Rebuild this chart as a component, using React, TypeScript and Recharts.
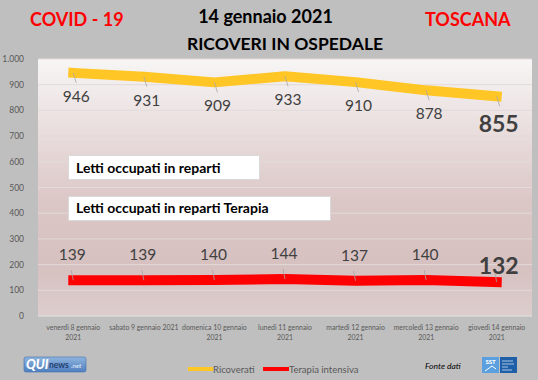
import React from "react";
import {
  ComposedChart,
  Line,
  XAxis,
  YAxis,
  CartesianGrid,
  LabelList,
} from "recharts";

const categories = [
  "venerdì 8 gennaio\n2021",
  "sabato 9 gennaio 2021",
  "domenica 10 gennaio\n2021",
  "lunedì 11 gennaio\n2021",
  "martedì 12 gennaio\n2021",
  "mercoledì 13 gennaio\n2021",
  "giovedì 14 gennaio\n2021",
];
const ricoverati = [946, 931, 909, 933, 910, 878, 855];
const terapiaIntensiva = [139, 139, 140, 144, 137, 140, 132];
const yTicks = [0, 100, 200, 300, 400, 500, 600, 700, 800, 900, 1000];

const data = categories.map((c, i) => ({
  cat: c,
  ricoverati: ricoverati[i],
  terapia: terapiaIntensiva[i],
}));

const FONT = "Lato, 'Open Sans', sans-serif";
const YELLOW = "#ffc625";
const RED = "#ff0000";

const fmt = (v: number) => String(v).replace(/\B(?=(\d{3})+(?!\d))/g, ".");

const XTick = (props: any) => {
  const { x, y, payload } = props;
  const lines = String(payload.value).split("\n");
  return (
    <text x={x} y={y} textAnchor="middle" fontFamily={FONT} fontSize={6.9} fill="#595959">
      {lines.map((l: string, i: number) => (
        <tspan key={i} x={x} dy={i === 0 ? 6 : 9.5}>
          {l}
        </tspan>
      ))}
    </text>
  );
};

const makeLabel = (below: boolean) => (props: any) => {
  const { x, y, value, index } = props;
  const last = index === categories.length - 1;
  const lx = below ? x + 3 : x - 1;
  const ly = below ? y + (last ? 36 : 29) : y - (last ? 8 : 20);
  return (
    <g>
      <line
        x1={x}
        y1={y}
        x2={below ? x + 3 : x - 2}
        y2={below ? y + 10 : y - 10}
        stroke="#a6a6a6"
        strokeWidth={0.8}
      />
      <text
        x={last ? x + 2 : lx}
        y={ly}
        textAnchor="middle"
        fontFamily={FONT}
        fontSize={last ? 23 : 15.5}
        fontWeight={last ? 700 : 400}
        fill="#404040"
      >
        {value}
      </text>
    </g>
  );
};

export default function App() {
  return (
    <div style={{ position: "absolute", left: 0, top: 0, width: 538, height: 380, background: "#bfbfbf" }}>
      <ComposedChart
        width={538}
        height={380}
        data={data}
        margin={{ top: 59, right: 6, left: 0, bottom: 0 }}
      >
        <defs>
          <linearGradient id="plotBg" x1="0" y1="0" x2="0" y2="1">
            <stop offset="0%" stopColor="#f7f5f5" />
            <stop offset="55%" stopColor="#dcc7c7" />
            <stop offset="80%" stopColor="#d6c0c0" />
            <stop offset="100%" stopColor="#ddcdcd" />
          </linearGradient>
        </defs>
        <CartesianGrid
          vertical={false}
          stroke="#e3dada"
          fill="url(#plotBg)"
          fillOpacity={1}
        />
        <XAxis
          dataKey="cat"
          scale="band"
          height={64}
          interval={0}
          tick={<XTick />}
          axisLine={{ stroke: "#d9d9d9" }}
          tickLine={false}
        />
        <YAxis
          width={38}
          domain={[0, 1000]}
          ticks={yTicks}
          tickFormatter={fmt}
          axisLine={false}
          tickLine={false}
          tickMargin={8}
          tick={{ fontFamily: FONT, fontSize: 8.5, fill: "#595959" }}
        />
        <Line
          dataKey="ricoverati"
          stroke={YELLOW}
          strokeWidth={10}
          strokeLinecap="square"
          strokeLinejoin="round"
          dot={false}
          isAnimationActive={false}
        >
          <LabelList dataKey="ricoverati" content={makeLabel(true)} />
        </Line>
        <Line
          dataKey="terapia"
          stroke={RED}
          strokeWidth={10}
          strokeLinecap="square"
          strokeLinejoin="round"
          dot={false}
          isAnimationActive={false}
        >
          <LabelList dataKey="terapia" content={makeLabel(false)} />
        </Line>
      </ComposedChart>
      <svg
        width={538}
        height={380}
        style={{ position: "absolute", left: 0, top: 0, pointerEvents: "none" }}
      >
        <defs>
          <linearGradient id="quiBg" x1="0" y1="0" x2="0" y2="1">
            <stop offset="0%" stopColor="#8fb4de" />
            <stop offset="100%" stopColor="#4f7fbf" />
          </linearGradient>
        </defs>
        <text x={30} y={26} fontFamily={FONT} fontSize={18} fontWeight={700} fill="#ff0000">
          COVID - 19
        </text>
        <text x={425} y={26} fontFamily={FONT} fontSize={18} fontWeight={700} fill="#ff0000">
          TOSCANA
        </text>
        <text x={265.5} y={23} textAnchor="middle" fontFamily={FONT} fontSize={18} fontWeight={700} fill="#000">
          14 gennaio 2021
        </text>
        <text x={285} y={50} textAnchor="middle" fontFamily={FONT} fontSize={17.5} fontWeight={700} fill="#000">
          RICOVERI IN OSPEDALE
        </text>

        <rect x={68.5} y={155.5} width={191} height={24} fill="#ffffff" stroke="#d9d9d9" />
        <text x={76} y={173} fontFamily={FONT} fontSize={14} fontWeight={700} fill="#000">
          Letti occupati in reparti
        </text>
        <rect x={68.5} y={196.5} width={262} height={24} fill="#ffffff" stroke="#d9d9d9" />
        <text x={76} y={213} fontFamily={FONT} fontSize={14} fontWeight={700} fill="#000">
          Letti occupati in reparti Terapia
        </text>

        <line x1={188} y1={369} x2={213} y2={369} stroke={YELLOW} strokeWidth={4} />
        <text x={213} y={372.5} fontFamily={FONT} fontSize={9.5} fill="#595959">
          Ricoverati
        </text>
        <line x1={263} y1={369} x2={289} y2={369} stroke={RED} strokeWidth={4} />
        <text x={289} y={372.5} fontFamily={FONT} fontSize={9.5} fill="#595959">
          Terapia intensiva
        </text>
        <text x={425} y={369} fontFamily={FONT} fontSize={8.5} fontStyle="italic" fill="#000">
          Fonte dati
        </text>

        <rect x={24} y={357} width={62} height={15} rx={2} fill="url(#quiBg)" stroke="#3f6fae" strokeWidth={0.6} />
        <text x={26} y={369} fontFamily={FONT} fontSize={13} fontWeight={900} fontStyle="italic" fill="#ffffff">
          QUI
        </text>
        <text x={49} y={368} fontFamily={FONT} fontSize={8.5} fontWeight={700} fill="#1f3f6f">
          news
        </text>
        <text x={71} y={368} fontFamily={FONT} fontSize={6.5} fontStyle="italic" fill="#e8f0fa">
          .net
        </text>

        <rect x={482} y={357} width={17} height={16} fill="#5aa0e0" />
        <text x={490.5} y={364} textAnchor="middle" fontFamily={FONT} fontSize={6} fontWeight={900} fill="#ffffff">
          SST
        </text>
        <path d="M485 371 L492 366 L496 369" stroke="#ffffff" strokeWidth={1} fill="none" />
        <rect x={500} y={357} width={17} height={16} fill="#1f5fa8" />
        <line x1={502} y1={361} x2={513} y2={361} stroke="#cfe0f3" strokeWidth={0.8} />
        <line x1={502} y1={364} x2={514} y2={364} stroke="#cfe0f3" strokeWidth={0.8} />
        <line x1={502} y1={367} x2={508} y2={367} stroke="#cfe0f3" strokeWidth={0.8} />
        <line x1={502} y1={370} x2={512} y2={370} stroke="#cfe0f3" strokeWidth={0.8} />
      </svg>
    </div>
  );
}
